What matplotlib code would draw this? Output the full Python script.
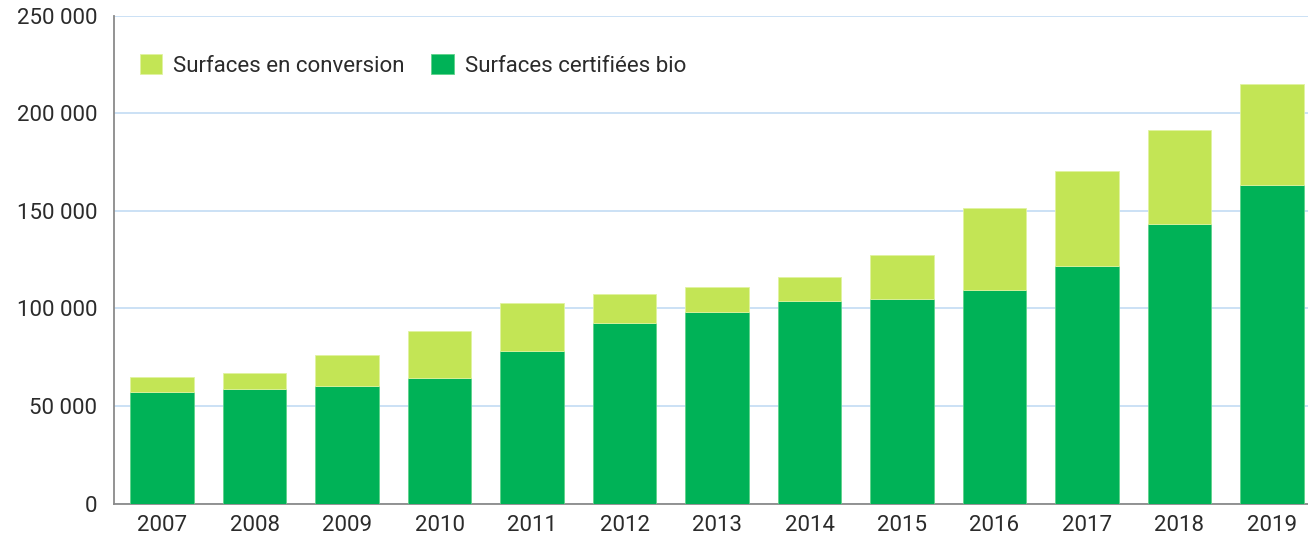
import matplotlib
matplotlib.use("Agg")
from matplotlib import pyplot as plt
from matplotlib.ticker import FuncFormatter
import numpy as np

## Data (hectares) ##
years = ["2007", "2008", "2009", "2010", "2011", "2012", "2013",
         "2014", "2015", "2016", "2017", "2018", "2019"]
certifiees = [57300, 58600, 60200, 64100, 78100, 92300, 98200,
              103500, 104900, 109300, 121900, 143000, 163000]
totales = [64600, 66800, 75900, 88500, 102700, 107100, 110900,
           116100, 127200, 151300, 170400, 191200, 215100]
conversion = [t - c for t, c in zip(totales, certifiees)]

LIGHT = "#c3e555"
DARK = "#00b257"
TXT = "#2b2b2b"

# no narrow Helvetica here, Roboto is the closest
plt.rcParams['font.family'] = ['Roboto', 'DejaVu Sans']

fig = plt.figure(figsize=(13.08, 5.38), dpi=100)
ax = fig.add_axes([114 / 1308, 34.5 / 538, (1308 - 114) / 1308, 488 / 538])

x = np.arange(len(years))
ax.bar(x, certifiees, width=0.69, color=DARK, edgecolor="#5fd38a",
       linewidth=0.6, zorder=3, label="Surfaces certifiées bio")
ax.bar(x, conversion, width=0.69, bottom=certifiees, color=LIGHT,
       edgecolor="#e0f3a0", linewidth=0.6, zorder=3,
       label="Surfaces en conversion")

ax.set_xlim(-0.52, 12.39)
ax.set_ylim(0, 250000)
ax.set_yticks(range(0, 250001, 50000))
ax.yaxis.set_major_formatter(FuncFormatter(lambda v, p: f"{int(v):,}".replace(",", " ")))
ax.set_xticks(x)
ax.set_xticklabels(years)

ax.grid(axis="y", color="#c2dcf4", linewidth=1.2, zorder=0)
ax.set_axisbelow(True)
for s in ["top", "right"]:
    ax.spines[s].set_visible(False)
ax.spines["left"].set_color("#8a8a8a")
ax.spines["bottom"].set_color("#8a8a8a")
ax.spines["left"].set_linewidth(1.3)
ax.spines["bottom"].set_linewidth(1.3)
ax.tick_params(axis="both", length=0, labelsize=16, colors=TXT)
ax.tick_params(axis="y", pad=12)
ax.tick_params(axis="x", pad=8)

# legend: conversion first
h, l = ax.get_legend_handles_labels()
ax.legend(h[::-1], l[::-1], loc="upper left", ncol=2, frameon=False,
          fontsize=16, bbox_to_anchor=(0.005, 0.962),
          handlelength=1.0, handleheight=1.0, handletextpad=0.5,
          columnspacing=1.2, labelcolor=TXT)

fig.savefig("out.png", dpi=100)
